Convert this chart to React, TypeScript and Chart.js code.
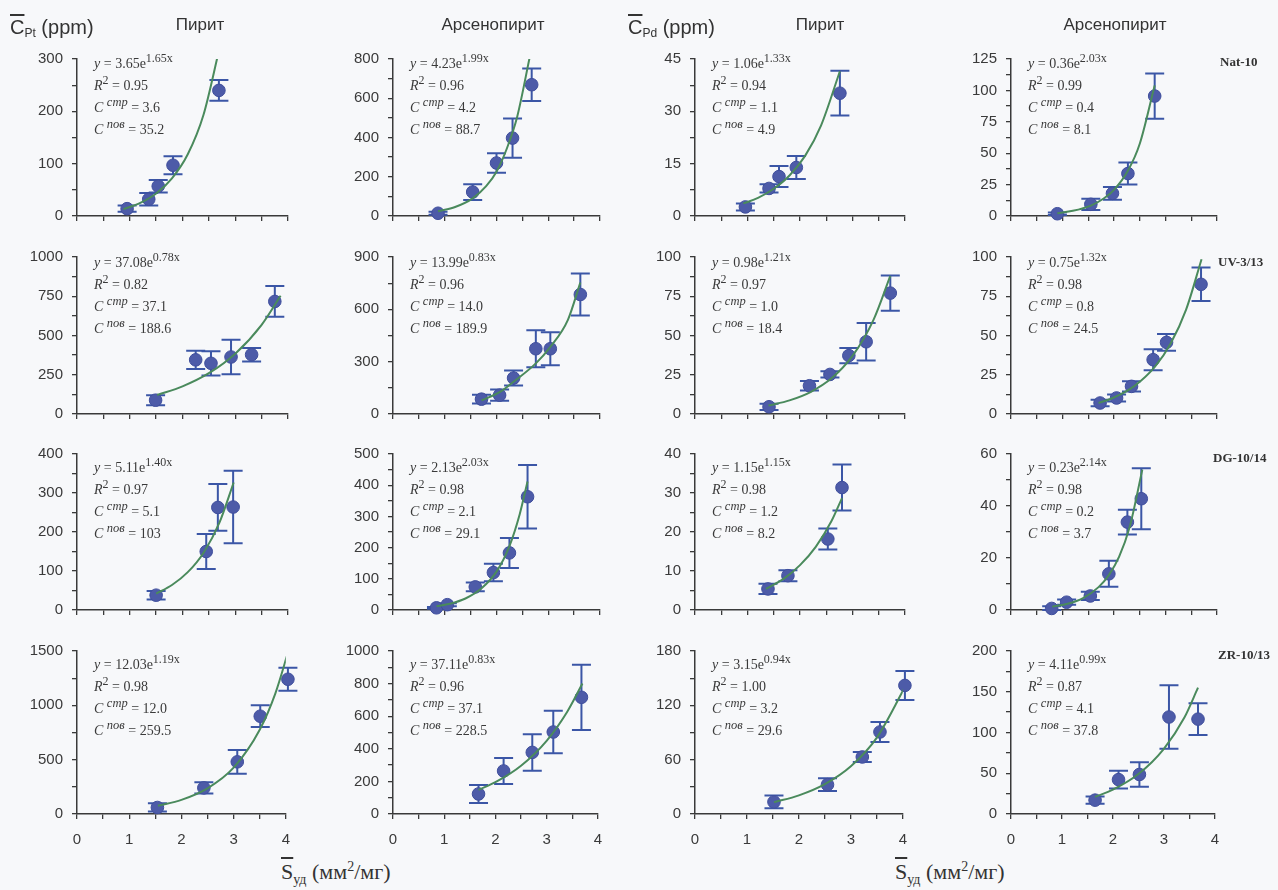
import React, { useEffect, useRef } from 'react';
import { Chart, registerables } from 'chart.js';

Chart.register(...registerables);

// ---------------- DATA ----------------
// Row 1: Nat-10
const nat10PtPyrX = [0.95, 1.36, 1.54, 1.82, 2.69];
const nat10PtPyrY = [14, 32, 57, 97, 240];
const nat10PtPyrErr = [6, 12, 12, 17, 20];
const nat10PtPyrFitX = [0.88, 1.2, 1.5, 1.8, 2.1, 2.4, 2.7];
const nat10PtPyrFitY = [13, 25, 43, 72, 118, 194, 320];

const nat10PtAspX = [0.87, 1.54, 2.0, 2.31, 2.68];
const nat10PtAspY = [14, 122, 270, 397, 669];
const nat10PtAspErr = [8, 40, 50, 100, 83];
const nat10PtAspFitX = [0.87, 1.2, 1.54, 1.8, 2.0, 2.2, 2.4, 2.65];
const nat10PtAspFitY = [24, 46, 90, 152, 226, 344, 506, 820];

const nat10PdPyrX = [0.96, 1.41, 1.6, 1.93, 2.76];
const nat10PdPyrY = [2.6, 7.9, 11.3, 13.9, 35.2];
const nat10PdPyrErr = [1, 1.2, 3, 3.3, 6.4];
const nat10PdPyrFitX = [0.92, 1.2, 1.5, 1.8, 2.1, 2.4, 2.76];
const nat10PdPyrFitY = [3.6, 5.2, 7.8, 11.6, 17.3, 25.9, 41.5];

const nat10PdAspX = [0.9, 1.55, 1.97, 2.27, 2.79];
const nat10PdAspY = [1.8, 9.3, 18, 33.8, 95.5];
const nat10PdAspErr = [1, 4.5, 5, 8.7, 18];
const nat10PdAspFitX = [0.9, 1.2, 1.55, 1.8, 2.0, 2.27, 2.5, 2.79];
const nat10PdAspFitY = [2.2, 4.1, 8.3, 13.9, 20.8, 36, 57.5, 104];

// Row 2: UV-3/13
const uv313PtPyrX = [1.49, 2.25, 2.54, 2.92, 3.31, 3.75];
const uv313PtPyrY = [88, 345, 323, 363, 378, 717];
const uv313PtPyrErr = [32, 58, 77, 110, 43, 98];
const uv313PtPyrFitX = [1.52, 2.0, 2.5, 3.0, 3.5, 3.86];
const uv313PtPyrFitY = [121, 176, 260, 384, 568, 753];

const uv313PtAspX = [1.71, 2.06, 2.33, 2.76, 3.04, 3.62];
const uv313PtAspY = [85, 108, 206, 374, 374, 685];
const uv313PtAspErr = [25, 32, 43, 106, 95, 120];
const uv313PtAspFitX = [1.71, 2.06, 2.33, 2.76, 3.04, 3.38, 3.62];
const uv313PtAspFitY = [78, 125, 185, 290, 385, 540, 754];

const uv313PdPyrX = [1.41, 2.18, 2.57, 2.93, 3.26, 3.72];
const uv313PdPyrY = [4.6, 18, 25.2, 37.2, 46, 77];
const uv313PdPyrErr = [2, 3, 2, 4.8, 12, 11.2];
const uv313PdPyrFitX = [1.4, 1.8, 2.2, 2.6, 3.0, 3.4, 3.72];
const uv313PdPyrFitY = [5.4, 8.7, 14, 22.7, 37, 60, 88];

const uv313PdAspX = [1.73, 2.05, 2.34, 2.76, 3.02, 3.69];
const uv313PdAspY = [7, 10.2, 17.6, 34.6, 45.6, 82.6];
const uv313PdAspErr = [2, 2.3, 3.2, 6.7, 5.3, 10.7];
const uv313PdAspFitX = [1.7, 2.0, 2.4, 2.8, 3.1, 3.4, 3.7];
const uv313PdAspFitY = [7, 10.5, 17.9, 30.3, 44.9, 66.5, 98.6];

// Row 3: DG-10/14
const dg1014PtPyrX = [1.5, 2.45, 2.67, 2.96];
const dg1014PtPyrY = [38, 150, 263, 264];
const dg1014PtPyrErr = [11, 45, 60, 93];
const dg1014PtPyrFitX = [1.5, 1.8, 2.1, 2.4, 2.7, 2.97];
const dg1014PtPyrFitY = [42, 64, 97, 147, 224, 327];

const dg1014PtAspX = [0.84, 1.05, 1.59, 1.94, 2.25, 2.6];
const dg1014PtAspY = [7, 17, 74, 120, 183, 363];
const dg1014PtAspErr = [3, 5, 14, 28, 48, 102];
const dg1014PtAspFitX = [0.84, 1.1, 1.4, 1.7, 2.0, 2.25, 2.45, 2.6];
const dg1014PtAspFitY = [11.8, 19.9, 36.9, 68, 123, 205, 308, 412];

const dg1014PdPyrX = [1.39, 1.77, 2.53, 2.8];
const dg1014PdPyrY = [5.4, 8.8, 18.2, 31.4];
const dg1014PdPyrErr = [1.3, 1.4, 2.7, 5.9];
const dg1014PdPyrFitX = [1.35, 1.7, 2.0, 2.3, 2.6, 2.8];
const dg1014PdPyrFitY = [5.4, 8.1, 11.5, 16.2, 22.8, 28.7];

const dg1014PdAspX = [0.79, 1.08, 1.54, 1.9, 2.26, 2.53];
const dg1014PdAspY = [0.6, 3, 5.4, 13.9, 33.8, 42.8];
const dg1014PdAspErr = [0.8, 1, 1.6, 5, 4.8, 11.7];
const dg1014PdAspFitX = [0.8, 1.1, 1.4, 1.7, 1.9, 2.1, 2.3, 2.55];
const dg1014PdAspFitY = [1.3, 2.4, 4.6, 8.8, 13.4, 20.5, 31.6, 54];

// Row 4: ZR-10/13
const zr1013PtPyrX = [1.54, 2.43, 3.07, 3.51, 4.04];
const zr1013PtPyrY = [60, 240, 480, 900, 1240];
const zr1013PtPyrErr = [38, 52, 110, 100, 105];
const zr1013PtPyrFitX = [1.55, 2.0, 2.5, 3.0, 3.5, 3.8, 4.05];
const zr1013PtPyrFitY = [76, 130, 236, 426, 775, 1110, 1500];

const zr1013PtAspX = [1.67, 2.16, 2.72, 3.13, 3.68];
const zr1013PtAspY = [123, 264, 378, 503, 716];
const zr1013PtAspErr = [55, 80, 112, 131, 200];
const zr1013PtAspFitX = [1.67, 2.0, 2.5, 3.0, 3.4, 3.7];
const zr1013PtAspFitY = [148, 195, 296, 449, 626, 800];

const zr1013PdPyrX = [1.52, 2.55, 3.22, 3.56, 4.04];
const zr1013PdPyrY = [13.3, 32.4, 63, 90.6, 142];
const zr1013PdPyrErr = [7, 7, 5.5, 11, 16];
const zr1013PdPyrFitX = [1.52, 2.0, 2.5, 3.0, 3.5, 4.04];
const zr1013PdPyrFitY = [13, 20.6, 33, 52.7, 84.4, 140];

const zr1013PdAspX = [1.65, 2.11, 2.52, 3.1, 3.67];
const zr1013PdAspY = [17, 42.2, 48.5, 119, 116.4];
const zr1013PdAspErr = [4.5, 11, 15, 39, 19.6];
const zr1013PdAspFitX = [1.65, 2.0, 2.5, 3.0, 3.4, 3.67];
const zr1013PdAspFitY = [21, 29.8, 49, 80, 118, 155];

// Axis ranges / tick labels (row-major order)
const yMaxes = [300, 800, 45, 125, 1000, 900, 100, 100, 400, 500, 40, 60, 1500, 1000, 180, 200];
const yLabelSteps = [100, 200, 15, 25, 250, 300, 25, 25, 100, 100, 10, 20, 500, 200, 60, 50];
const xMax = 4;
const xLabelStep = 1;

// Texts
const samples = ['Nat-10', 'UV-3/13', 'DG-10/14', 'ZR-10/13'];
const minerals = ['Пирит', 'Арсенопирит', 'Пирит', 'Арсенопирит'];
const fitCoefA = ['3.65', '4.23', '1.06', '0.36', '37.08', '13.99', '0.98', '0.75', '5.11', '2.13', '1.15', '0.23', '12.03', '37.11', '3.15', '4.11'];
const fitCoefB = ['1.65', '1.99', '1.33', '2.03', '0.78', '0.83', '1.21', '1.32', '1.40', '2.03', '1.15', '2.14', '1.19', '0.83', '0.94', '0.99'];
const rSquared = ['0.95', '0.96', '0.94', '0.99', '0.82', '0.96', '0.97', '0.98', '0.97', '0.98', '0.98', '0.98', '0.98', '0.96', '1.00', '0.87'];
const cStr = ['3.6', '4.2', '1.1', '0.4', '37.1', '14.0', '1.0', '0.8', '5.1', '2.1', '1.2', '0.2', '12.0', '37.1', '3.2', '4.1'];
const cPov = ['35.2', '88.7', '4.9', '8.1', '188.6', '189.9', '18.4', '24.5', '103', '29.1', '8.2', '3.7', '259.5', '228.5', '29.6', '37.8'];

// ---------------- tables built from the arrays ----------------
const panelX = [nat10PtPyrX, nat10PtAspX, nat10PdPyrX, nat10PdAspX, uv313PtPyrX, uv313PtAspX, uv313PdPyrX, uv313PdAspX, dg1014PtPyrX, dg1014PtAspX, dg1014PdPyrX, dg1014PdAspX, zr1013PtPyrX, zr1013PtAspX, zr1013PdPyrX, zr1013PdAspX];
const panelY = [nat10PtPyrY, nat10PtAspY, nat10PdPyrY, nat10PdAspY, uv313PtPyrY, uv313PtAspY, uv313PdPyrY, uv313PdAspY, dg1014PtPyrY, dg1014PtAspY, dg1014PdPyrY, dg1014PdAspY, zr1013PtPyrY, zr1013PtAspY, zr1013PdPyrY, zr1013PdAspY];
const panelErr = [nat10PtPyrErr, nat10PtAspErr, nat10PdPyrErr, nat10PdAspErr, uv313PtPyrErr, uv313PtAspErr, uv313PdPyrErr, uv313PdAspErr, dg1014PtPyrErr, dg1014PtAspErr, dg1014PdPyrErr, dg1014PdAspErr, zr1013PtPyrErr, zr1013PtAspErr, zr1013PdPyrErr, zr1013PdAspErr];
const panelFitX = [nat10PtPyrFitX, nat10PtAspFitX, nat10PdPyrFitX, nat10PdAspFitX, uv313PtPyrFitX, uv313PtAspFitX, uv313PdPyrFitX, uv313PdAspFitX, dg1014PtPyrFitX, dg1014PtAspFitX, dg1014PdPyrFitX, dg1014PdAspFitX, zr1013PtPyrFitX, zr1013PtAspFitX, zr1013PdPyrFitX, zr1013PdAspFitX];
const panelFitY = [nat10PtPyrFitY, nat10PtAspFitY, nat10PdPyrFitY, nat10PdAspFitY, uv313PtPyrFitY, uv313PtAspFitY, uv313PdPyrFitY, uv313PdAspFitY, dg1014PtPyrFitY, dg1014PtAspFitY, dg1014PdPyrFitY, dg1014PdAspFitY, zr1013PtPyrFitY, zr1013PtAspFitY, zr1013PdPyrFitY, zr1013PdAspFitY];

// ---------------- layout / style ----------------
const COL_X0 = [77, 393, 695, 1011];
const COL_W = [211, 207, 210, 206];
const ROW_TOP = [55, 253, 450, 647];
const ROW_H = [167, 167, 166, 167];
const ANN_OFF = [9, 10, 18, 18];
const LEFT_W = 70;
const PAD_T = 14;
const PAD_R = 14;

const AXIS = '#3a3a3a';
const POINT_FILL = '#4d5ba8';
const POINT_EDGE = '#3f4e9c';
const ERR_COLOR = '#3b56a6';
const FIT_COLOR = '#4a8a5c';
const BG = '#f7f8fa';
const SANS = '"Liberation Sans", Arial, sans-serif';
const SERIF = '"Liberation Serif", "Times New Roman", serif';

const errorBarPlugin = {
  id: 'errorBarsPlugin',
  beforeDatasetsDraw(chart: any) {
    const ctx = chart.ctx;
    const xs = chart.scales.x;
    const ys = chart.scales.y;
    chart.data.datasets.forEach((ds: any) => {
      if (!ds.errorBars) return;
      ctx.save();
      ctx.strokeStyle = ERR_COLOR;
      ctx.lineWidth = 2;
      const cap = 9.5;
      ds.data.forEach((p: any, i: number) => {
        const e = ds.errorBars[i];
        const px = xs.getPixelForValue(p.x);
        const top = ys.getPixelForValue(p.y + e);
        const bot = ys.getPixelForValue(Math.max(0, p.y - e));
        ctx.beginPath();
        ctx.moveTo(px, top);
        ctx.lineTo(px, bot);
        ctx.moveTo(px - cap, top);
        ctx.lineTo(px + cap, top);
        ctx.moveTo(px - cap, bot);
        ctx.lineTo(px + cap, bot);
        ctx.stroke();
      });
      ctx.restore();
    });
  },
};

function isMultiple(v: number, step: number) {
  const q = v / step;
  return Math.abs(q - Math.round(q)) < 1e-6;
}

function Panel({ idx }: { idx: number }) {
  const ref = useRef<HTMLCanvasElement>(null);
  const r = Math.floor(idx / 4);
  const c = idx % 4;
  const bottomRow = r === 3;
  const bottomH = bottomRow ? 42 : 12;
  const w = LEFT_W + COL_W[c] + PAD_R;
  const h = PAD_T + ROW_H[r] + bottomH;

  useEffect(() => {
    const pts = panelX[idx].map((x, i) => ({ x, y: panelY[idx][i] }));
    const fit = panelFitX[idx].map((x, i) => ({ x, y: panelFitY[idx][i] }));
    const yStep = yLabelSteps[idx];
    const gridCfg = {
      display: true,
      drawOnChartArea: false,
      drawTicks: true,
      tickLength: 5,
      color: AXIS,
      tickColor: AXIS,
      lineWidth: 1.3,
    };
    const chart = new Chart(ref.current as HTMLCanvasElement, {
      type: 'scatter',
      data: {
        datasets: [
          {
            data: fit,
            showLine: true,
            borderColor: FIT_COLOR,
            borderWidth: 2,
            pointRadius: 0,
            cubicInterpolationMode: 'monotone',
            fill: false,
            order: 0,
          } as any,
          {
            data: pts,
            pointRadius: 6.3,
            backgroundColor: POINT_FILL,
            borderColor: POINT_EDGE,
            borderWidth: 1,
            order: 1,
            clip: false,
            errorBars: panelErr[idx],
          } as any,
        ],
      },
      options: {
        responsive: false,
        animation: false,
        devicePixelRatio: 1,
        events: [],
        layout: { padding: { top: PAD_T, right: PAD_R, left: 0, bottom: 0 } },
        plugins: { legend: { display: false }, tooltip: { enabled: false }, title: { display: false } },
        scales: {
          x: {
            type: 'linear',
            min: 0,
            max: xMax,
            afterFit: (s: any) => {
              s.height = bottomH;
            },
            ticks: {
              stepSize: xLabelStep / 2,
              autoSkip: false,
              maxRotation: 0,
              padding: 12,
              color: AXIS,
              font: { family: SANS, size: 15 },
              callback: (v: any) => (bottomRow && isMultiple(Number(v), xLabelStep) ? String(v) : ''),
            },
            grid: gridCfg,
            border: { display: true, color: AXIS, width: 1.5 },
          },
          y: {
            type: 'linear',
            min: 0,
            max: yMaxes[idx],
            afterFit: (s: any) => {
              s.width = LEFT_W;
            },
            ticks: {
              stepSize: yStep / 2,
              autoSkip: false,
              padding: 9,
              color: AXIS,
              font: { family: SANS, size: 15 },
              callback: (v: any) => (isMultiple(Number(v), yStep) ? String(v) : ''),
            },
            grid: gridCfg,
            border: { display: true, color: AXIS, width: 1.5 },
          },
        },
      } as any,
      plugins: [errorBarPlugin],
    });
    return () => chart.destroy();
  }, [idx]);

  return (
    <canvas
      ref={ref}
      width={w}
      height={h}
      style={{ position: 'absolute', left: COL_X0[c] - LEFT_W, top: ROW_TOP[r] - PAD_T, width: w, height: h }}
    />
  );
}

const supEq: React.CSSProperties = { fontSize: 12, position: 'relative', top: -6, lineHeight: 0, verticalAlign: 'baseline' };
const supC: React.CSSProperties = { fontSize: 12.5, position: 'relative', top: -6, lineHeight: 0, verticalAlign: 'baseline', fontStyle: 'italic' };

function Annotation({ idx }: { idx: number }) {
  const r = Math.floor(idx / 4);
  const c = idx % 4;
  return (
    <div
      style={{
        position: 'absolute',
        left: COL_X0[c] + 17,
        top: ROW_TOP[r] + ANN_OFF[r] - 11,
        fontFamily: SERIF,
        fontSize: 14,
        color: '#3a3a3a',
        lineHeight: '22px',
        whiteSpace: 'nowrap',
        pointerEvents: 'none',
      }}
    >
      <div>
        <i>y</i> = {fitCoefA[idx]}e<span style={supEq}>{fitCoefB[idx]}x</span>
      </div>
      <div>
        <i>R</i>
        <span style={supEq}>2</span> = {rSquared[idx]}
      </div>
      <div>
        <i>C</i> <span style={supC}>стр</span> = {cStr[idx]}
      </div>
      <div>
        <i>C</i> <span style={supC}>пов</span> = {cPov[idx]}
      </div>
    </div>
  );
}

const sampleLabelPos = [
  { left: 1220, top: 54 },
  { left: 1218, top: 254 },
  { left: 1213, top: 450 },
  { left: 1218, top: 647 },
];
const mineralCenters = [200, 493, 820, 1115];
const elementHeaders = [
  { left: 10, el: 'Pt' },
  { left: 628, el: 'Pd' },
];
const xTitleLefts = [281, 895];

export default function App() {
  const idxs = Array.from({ length: 16 }, (_, i) => i);
  return (
    <div style={{ position: 'absolute', left: 0, top: 0, width: 1278, height: 890, background: BG, overflow: 'hidden' }}>
      {idxs.map((i) => (
        <Panel key={'p' + i} idx={i} />
      ))}
      {idxs.map((i) => (
        <Annotation key={'a' + i} idx={i} />
      ))}
      {elementHeaders.map((h, i) => (
        <div
          key={'eh' + i}
          style={{ position: 'absolute', left: h.left, top: 14, fontFamily: SANS, fontSize: 20, color: '#333', whiteSpace: 'nowrap', lineHeight: '26px' }}
        >
          <span style={{ textDecoration: 'overline' }}>C</span>
          <span style={{ fontSize: 12, position: 'relative', top: 3 }}>{h.el}</span> (ppm)
        </div>
      ))}
      {minerals.map((m, i) => (
        <div
          key={'m' + i}
          style={{ position: 'absolute', left: mineralCenters[i] - 70, width: 140, textAlign: 'center', top: 13, fontFamily: SANS, fontSize: 17, color: '#333', lineHeight: '24px' }}
        >
          {m}
        </div>
      ))}
      {samples.map((s, i) => (
        <div
          key={'s' + i}
          style={{ position: 'absolute', left: sampleLabelPos[i].left, top: sampleLabelPos[i].top, fontFamily: SERIF, fontWeight: 'bold', fontSize: 13, color: '#333', whiteSpace: 'nowrap', lineHeight: '16px' }}
        >
          {s}
        </div>
      ))}
      {xTitleLefts.map((l, i) => (
        <div
          key={'xt' + i}
          style={{ position: 'absolute', left: l, top: 858, fontFamily: SERIF, fontSize: 22, color: '#333', whiteSpace: 'nowrap', lineHeight: '28px' }}
        >
          <span style={{ textDecoration: 'overline' }}>S</span>
          <span style={{ fontSize: 14, position: 'relative', top: 5 }}>уд</span> (мм
          <span style={{ fontSize: 14, position: 'relative', top: -8 }}>2</span>/мг)
        </div>
      ))}
    </div>
  );
}
